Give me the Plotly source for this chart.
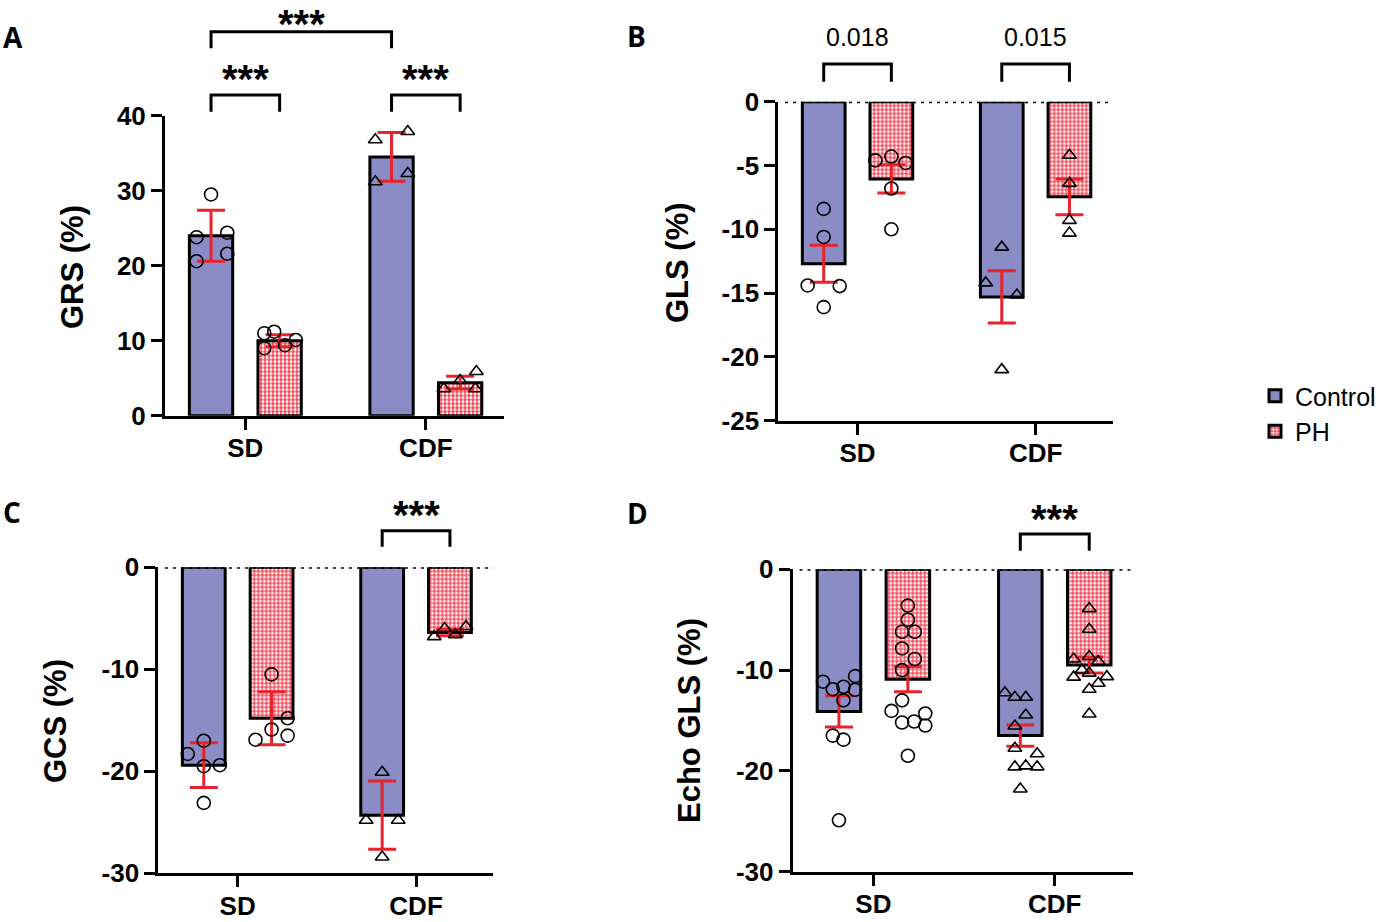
import plotly.graph_objects as go

W, H = 1386, 922

# ---------------- data ----------------
categories = ["SD", "CDF"]
group_names = ["Control", "PH"]

# Panel A: GRS (%)
grs_ctrl_mean = [24.0, 34.5]
grs_ctrl_sem = [3.4, 3.25]
grs_ph_mean = [10.0, 4.4]
grs_ph_sem = [0.8, 0.85]
grs_ctrl_sd = [29.5, 23.8, 24.4, 20.6, 21.6]
grs_ph_sd = [11.0, 11.2, 9.4, 10.1, 9.0]
grs_ctrl_cdf = [36.8, 37.9, 31.2, 32.3]
grs_ph_cdf = [3.6, 4.7, 5.9, 3.6]
grs_ticks = [0, 10, 20, 30, 40]
grs_ticklabels = ["0", "10", "20", "30", "40"]

# Panel B: GLS (%)
gls_ctrl_mean = [-12.7, -15.3]
gls_ctrl_sem = [1.45, 2.05]
gls_ph_mean = [-6.05, -7.45]
gls_ph_sem = [1.1, 1.4]
gls_ctrl_sd = [-8.4, -10.6, -14.4, -14.45, -16.1]
gls_ph_sd = [-4.6, -4.3, -4.8, -6.8, -10.0]
gls_ctrl_cdf = [-11.4, -14.2, -15.15, -21.0]
gls_ph_cdf = [-4.2, -6.4, -9.3, -10.3]
gls_ticks = [0, -5, -10, -15, -20, -25]
gls_ticklabels = ["0", "-5", "-10", "-15", "-20", "-25"]
gls_pvalues = ["0.018", "0.015"]

# Panel C: GCS (%)
gcs_ctrl_mean = [-19.4, -24.3]
gcs_ctrl_sem = [2.2, 3.35]
gcs_ph_mean = [-14.8, -6.4]
gcs_ph_sem = [2.6, 0.3]
gcs_ctrl_sd = [-17.0, -18.3, -19.5, -19.4, -23.1]
gcs_ph_sd = [-10.5, -14.8, -15.9, -16.9, -16.5]
gcs_ctrl_cdf = [-20.1, -24.8, -24.8, -28.4]
gcs_ph_cdf = [-6.8, -6.0, -6.6, -5.8]
gcs_ticks = [0, -10, -20, -30]
gcs_ticklabels = ["0", "-10", "-20", "-30"]

# Panel D: Echo GLS (%)
echo_ctrl_mean = [-14.1, -16.5]
echo_ctrl_sem = [1.55, 1.05]
echo_ph_mean = [-10.9, -9.5]
echo_ph_sem = [1.25, 0.8]
echo_ctrl_sd = [-11.15, -11.9, -11.65, -10.6, -11.95, -13.0, -16.5, -16.9, -24.9]
echo_ph_sd = [-3.6, -5.0, -6.2, -6.2, -7.85, -8.9, -10.0, -13.0, -14.05,
              -14.3, -15.2, -15.1, -15.5, -18.5]
echo_ctrl_cdf = [-12.25, -12.7, -12.7, -14.45, -15.55, -17.75, -18.3, -19.6,
                 -19.5, -19.6, -21.8]
echo_ph_cdf = [-3.9, -5.95, -8.65, -8.9, -9.15, -10.0, -10.3, -10.7, -10.65,
               -11.3, -11.9, -14.35]
echo_ticks = [0, -10, -20, -30]
echo_ticklabels = ["0", "-10", "-20", "-30"]

# ---------------- layout / positions (not data) ----------------
# horizontal jitter of the scatter points (in category units)
grs_jit = dict(ctrl_sd=[0, -0.08, 0.09, -0.08, 0.09], ph_sd=[-0.085, -0.03, 0.03, 0.09, -0.085],
               ctrl_cdf=[-0.09, 0.09, -0.09, 0.09], ph_cdf=[-0.09, 0, 0.09, 0.085])
gls_jit = dict(ctrl_sd=[0, 0, -0.09, 0.09, 0], ph_sd=[-0.09, 0, 0.08, 0, 0],
               ctrl_cdf=[0, -0.09, 0.085, 0], ph_cdf=[0, 0, 0, 0])
gcs_jit = dict(ctrl_sd=[0, -0.09, 0, 0.09, 0], ph_sd=[0, 0.09, 0, -0.09, 0.09],
               ctrl_cdf=[0, -0.09, 0.09, 0], ph_cdf=[-0.088, -0.03, 0.03, 0.09])
echo_jit = dict(ctrl_sd=[-0.088, -0.034, 0.025, 0.089, 0.089, 0.025, -0.034, 0.025, 0],
                ph_sd=[0, 0, -0.032, 0.038, -0.032, 0.038, -0.032, -0.032, -0.09, 0.096,
                       -0.032, 0.035, 0.096, 0],
                ctrl_cdf=[-0.085, -0.03, 0.03, 0.03, -0.03, -0.03, 0.093, -0.03, 0.03, 0.093, 0],
                ph_cdf=[0, 0, 0, -0.086, 0.05, -0.04, 0, -0.086, 0.097, 0.05, 0, 0])

BLUE = "#8a8cc5"
RED = "#e8232b"
PINK_BG = "#f0505e"
FONT = "Liberation Sans, Arial, sans-serif"
XR = [-0.445, 1.433]
OFF = 0.19
BW = 0.24


def px_x(px):
    return px / W


def px_y(py):
    return 1 - py / H


panels = [
    dict(ctrl_mean=grs_ctrl_mean, ctrl_sem=grs_ctrl_sem, ph_mean=grs_ph_mean, ph_sem=grs_ph_sem,
         pts=dict(ctrl_sd=grs_ctrl_sd, ph_sd=grs_ph_sd, ctrl_cdf=grs_ctrl_cdf, ph_cdf=grs_ph_cdf),
         jit=grs_jit, yr=[0, 40], ticks=grs_ticks, ticklabels=grs_ticklabels,
         xdom=(165, 504), ydom=(115.7, 415.7), title="GRS (%)", title_pos=(73, 267),
         letter="A", letter_pos=(1, 37), zero=False),
    dict(ctrl_mean=gls_ctrl_mean, ctrl_sem=gls_ctrl_sem, ph_mean=gls_ph_mean, ph_sem=gls_ph_sem,
         pts=dict(ctrl_sd=gls_ctrl_sd, ph_sd=gls_ph_sd, ctrl_cdf=gls_ctrl_cdf, ph_cdf=gls_ph_cdf),
         jit=gls_jit, yr=[-25, 0], ticks=gls_ticks, ticklabels=gls_ticklabels,
         xdom=(778.3, 1112.7), ydom=(101.7, 420.7), title="GLS (%)", title_pos=(677, 263),
         letter="B", letter_pos=(625, 36), zero=True),
    dict(ctrl_mean=gcs_ctrl_mean, ctrl_sem=gcs_ctrl_sem, ph_mean=gcs_ph_mean, ph_sem=gcs_ph_sem,
         pts=dict(ctrl_sd=gcs_ctrl_sd, ph_sd=gcs_ph_sd, ctrl_cdf=gcs_ctrl_cdf, ph_cdf=gcs_ph_cdf),
         jit=gcs_jit, yr=[-30, 0], ticks=gcs_ticks, ticklabels=gcs_ticklabels,
         xdom=(158.3, 493.3), ydom=(567.3, 873.3), title="GCS (%)", title_pos=(55, 721),
         letter="C", letter_pos=(1, 512), zero=True),
    dict(ctrl_mean=echo_ctrl_mean, ctrl_sem=echo_ctrl_sem, ph_mean=echo_ph_mean, ph_sem=echo_ph_sem,
         pts=dict(ctrl_sd=echo_ctrl_sd, ph_sd=echo_ph_sd, ctrl_cdf=echo_ctrl_cdf, ph_cdf=echo_ph_cdf),
         jit=echo_jit, yr=[-30, 0], ticks=echo_ticks, ticklabels=echo_ticklabels,
         xdom=(792.7, 1133.3), ydom=(569.3, 871.7), title="Echo GLS (%)", title_pos=(689, 721),
         letter="D", letter_pos=(625, 513), zero=True),
]

fig = go.Figure()
shapes = []
annotations = []
axis_style = dict(showline=True, linecolor="black", linewidth=3, ticks="outside", ticklen=11,
                  tickwidth=3, tickcolor="black", showgrid=False, zeroline=False, fixedrange=True,
                  automargin=False,
                  tickfont=dict(family=FONT, size=26, color="black", weight="bold"))

for i, p in enumerate(panels):
    sfx = "" if i == 0 else str(i + 1)
    xa, ya = "x" + sfx, "y" + sfx
    show = i == 0
    # bars
    fig.add_trace(go.Bar(x=[0, 1], y=p["ctrl_mean"], width=BW, offset=-OFF - BW / 2,
                         marker=dict(color=BLUE, line=dict(color="black", width=3)),
                         name=group_names[0], legendgroup="c", showlegend=show, xaxis=xa, yaxis=ya))
    fig.add_trace(go.Bar(x=[0, 1], y=p["ph_mean"], width=BW, offset=OFF - BW / 2,
                         marker=dict(color="white", line=dict(color="black", width=3),
                                     pattern=dict(shape=".", fgcolor="white", bgcolor=PINK_BG,
                                                  size=4, solidity=0.4, fillmode="replace")),
                         name=group_names[1], legendgroup="p", showlegend=show, xaxis=xa, yaxis=ya))
    # error bars (mean +/- SEM)
    for gi, (mean, sem) in enumerate([(p["ctrl_mean"], p["ctrl_sem"]), (p["ph_mean"], p["ph_sem"])]):
        sign = -1 if gi == 0 else 1
        fig.add_trace(go.Scatter(x=[c + sign * OFF for c in (0, 1)], y=mean, mode="markers",
                                 marker=dict(size=1, color="rgba(0,0,0,0)"),
                                 error_y=dict(type="data", array=sem, color=RED, thickness=3, width=14),
                                 showlegend=False, hoverinfo="skip", xaxis=xa, yaxis=ya))
    # individual points
    for key, cat, sign in [("ctrl_sd", 0, -1), ("ph_sd", 0, 1), ("ctrl_cdf", 1, -1), ("ph_cdf", 1, 1)]:
        vals = p["pts"][key]
        jit = p["jit"][key]
        sym = "circle-open" if cat == 0 else "triangle-up-open"
        fig.add_trace(go.Scatter(x=[cat + sign * OFF + j for j in jit], y=vals, mode="markers",
                                 marker=dict(symbol=sym, size=13 if cat == 0 else 12, color="black",
                                             line=dict(width=1.6, color="black")),
                                 showlegend=False, xaxis=xa, yaxis=ya))
    x0, x1 = p["xdom"]
    yt, yb = p["ydom"]
    fig.update_layout({
        "xaxis" + sfx: dict(axis_style, domain=[px_x(x0), px_x(x1)], range=XR, anchor=ya,
                             tickvals=[0, 1], ticktext=categories, ticklabelstandoff=-4),
        "yaxis" + sfx: dict(axis_style, domain=[px_y(yb), px_y(yt)], range=p["yr"], anchor=xa,
                             tickvals=p["ticks"], ticktext=p["ticklabels"]),
    })
    if p["zero"]:
        shapes.append(dict(type="line", xref=xa + " domain", yref=ya, x0=0.02, x1=1, y0=0, y1=0,
                           line=dict(color="black", width=3, dash="3px,5px"), layer="above"))
    annotations.append(dict(text=p["title"], xref="paper", yref="paper", x=px_x(p["title_pos"][0]),
                            y=px_y(p["title_pos"][1]), textangle=-90, showarrow=False,
                            xanchor="center", yanchor="middle",
                            font=dict(family=FONT, size=31, color="black", weight="bold")))
    annotations.append(dict(text=p["letter"], xref="paper", yref="paper", x=px_x(p["letter_pos"][0]),
                            y=px_y(p["letter_pos"][1]), showarrow=False, xanchor="left",
                            yanchor="middle", font=dict(family="Open Sans, Liberation Sans", size=28,
                                                        color="black", weight="bold")))


def bracket(xa, xl, xr, y_top_px, y_bot_px):
    shapes.append(dict(type="path", xref=xa, yref="paper",
                       path=f"M {xl},{px_y(y_bot_px)} L {xl},{px_y(y_top_px)} L {xr},{px_y(y_top_px)} L {xr},{px_y(y_bot_px)}",
                       line=dict(color="black", width=3)))


def label(xa, xc, y_px, text, size=40, bold=True):
    annotations.append(dict(text=text, xref=xa, yref="paper", x=xc, y=px_y(y_px), showarrow=False,
                            xanchor="center", yanchor="middle",
                            font=dict(family=FONT, size=size, color="black",
                                      weight="bold" if bold else "normal")))


# Panel A brackets
bracket("x", -OFF, 1 - OFF, 31.7, 48.3)
label("x", 0.5 - OFF, 24, "***")
for c in (0, 1):
    bracket("x", c - OFF, c + OFF, 95, 111.7)
    label("x", c, 79, "***")
# Panel B brackets with p-values
for c in (0, 1):
    bracket("x2", c - OFF, c + OFF, 64, 81.7)
    label("x2", c, 37, gls_pvalues[c], size=25, bold=False)
# Panel C, D
bracket("x3", 1 - OFF, 1 + OFF, 530.7, 546.7)
label("x3", 1, 515, "***")
bracket("x4", 1 - OFF, 1 + OFF, 534, 550.7)
label("x4", 1, 518.5, "***")

fig.update_layout(
    width=W, height=H, margin=dict(l=0, r=0, t=0, b=0, autoexpand=False),
    paper_bgcolor="white", plot_bgcolor="white", barmode="overlay",
    shapes=shapes, annotations=annotations,
    legend=dict(x=px_x(1255), y=px_y(373), xanchor="left", yanchor="top",
                font=dict(family=FONT, size=25, color="black"), bgcolor="rgba(0,0,0,0)",
                tracegroupgap=0),
)

fig.write_html("out.html", config={"displayModeBar": False},
               post_script="document.body.style.margin='0px';")
